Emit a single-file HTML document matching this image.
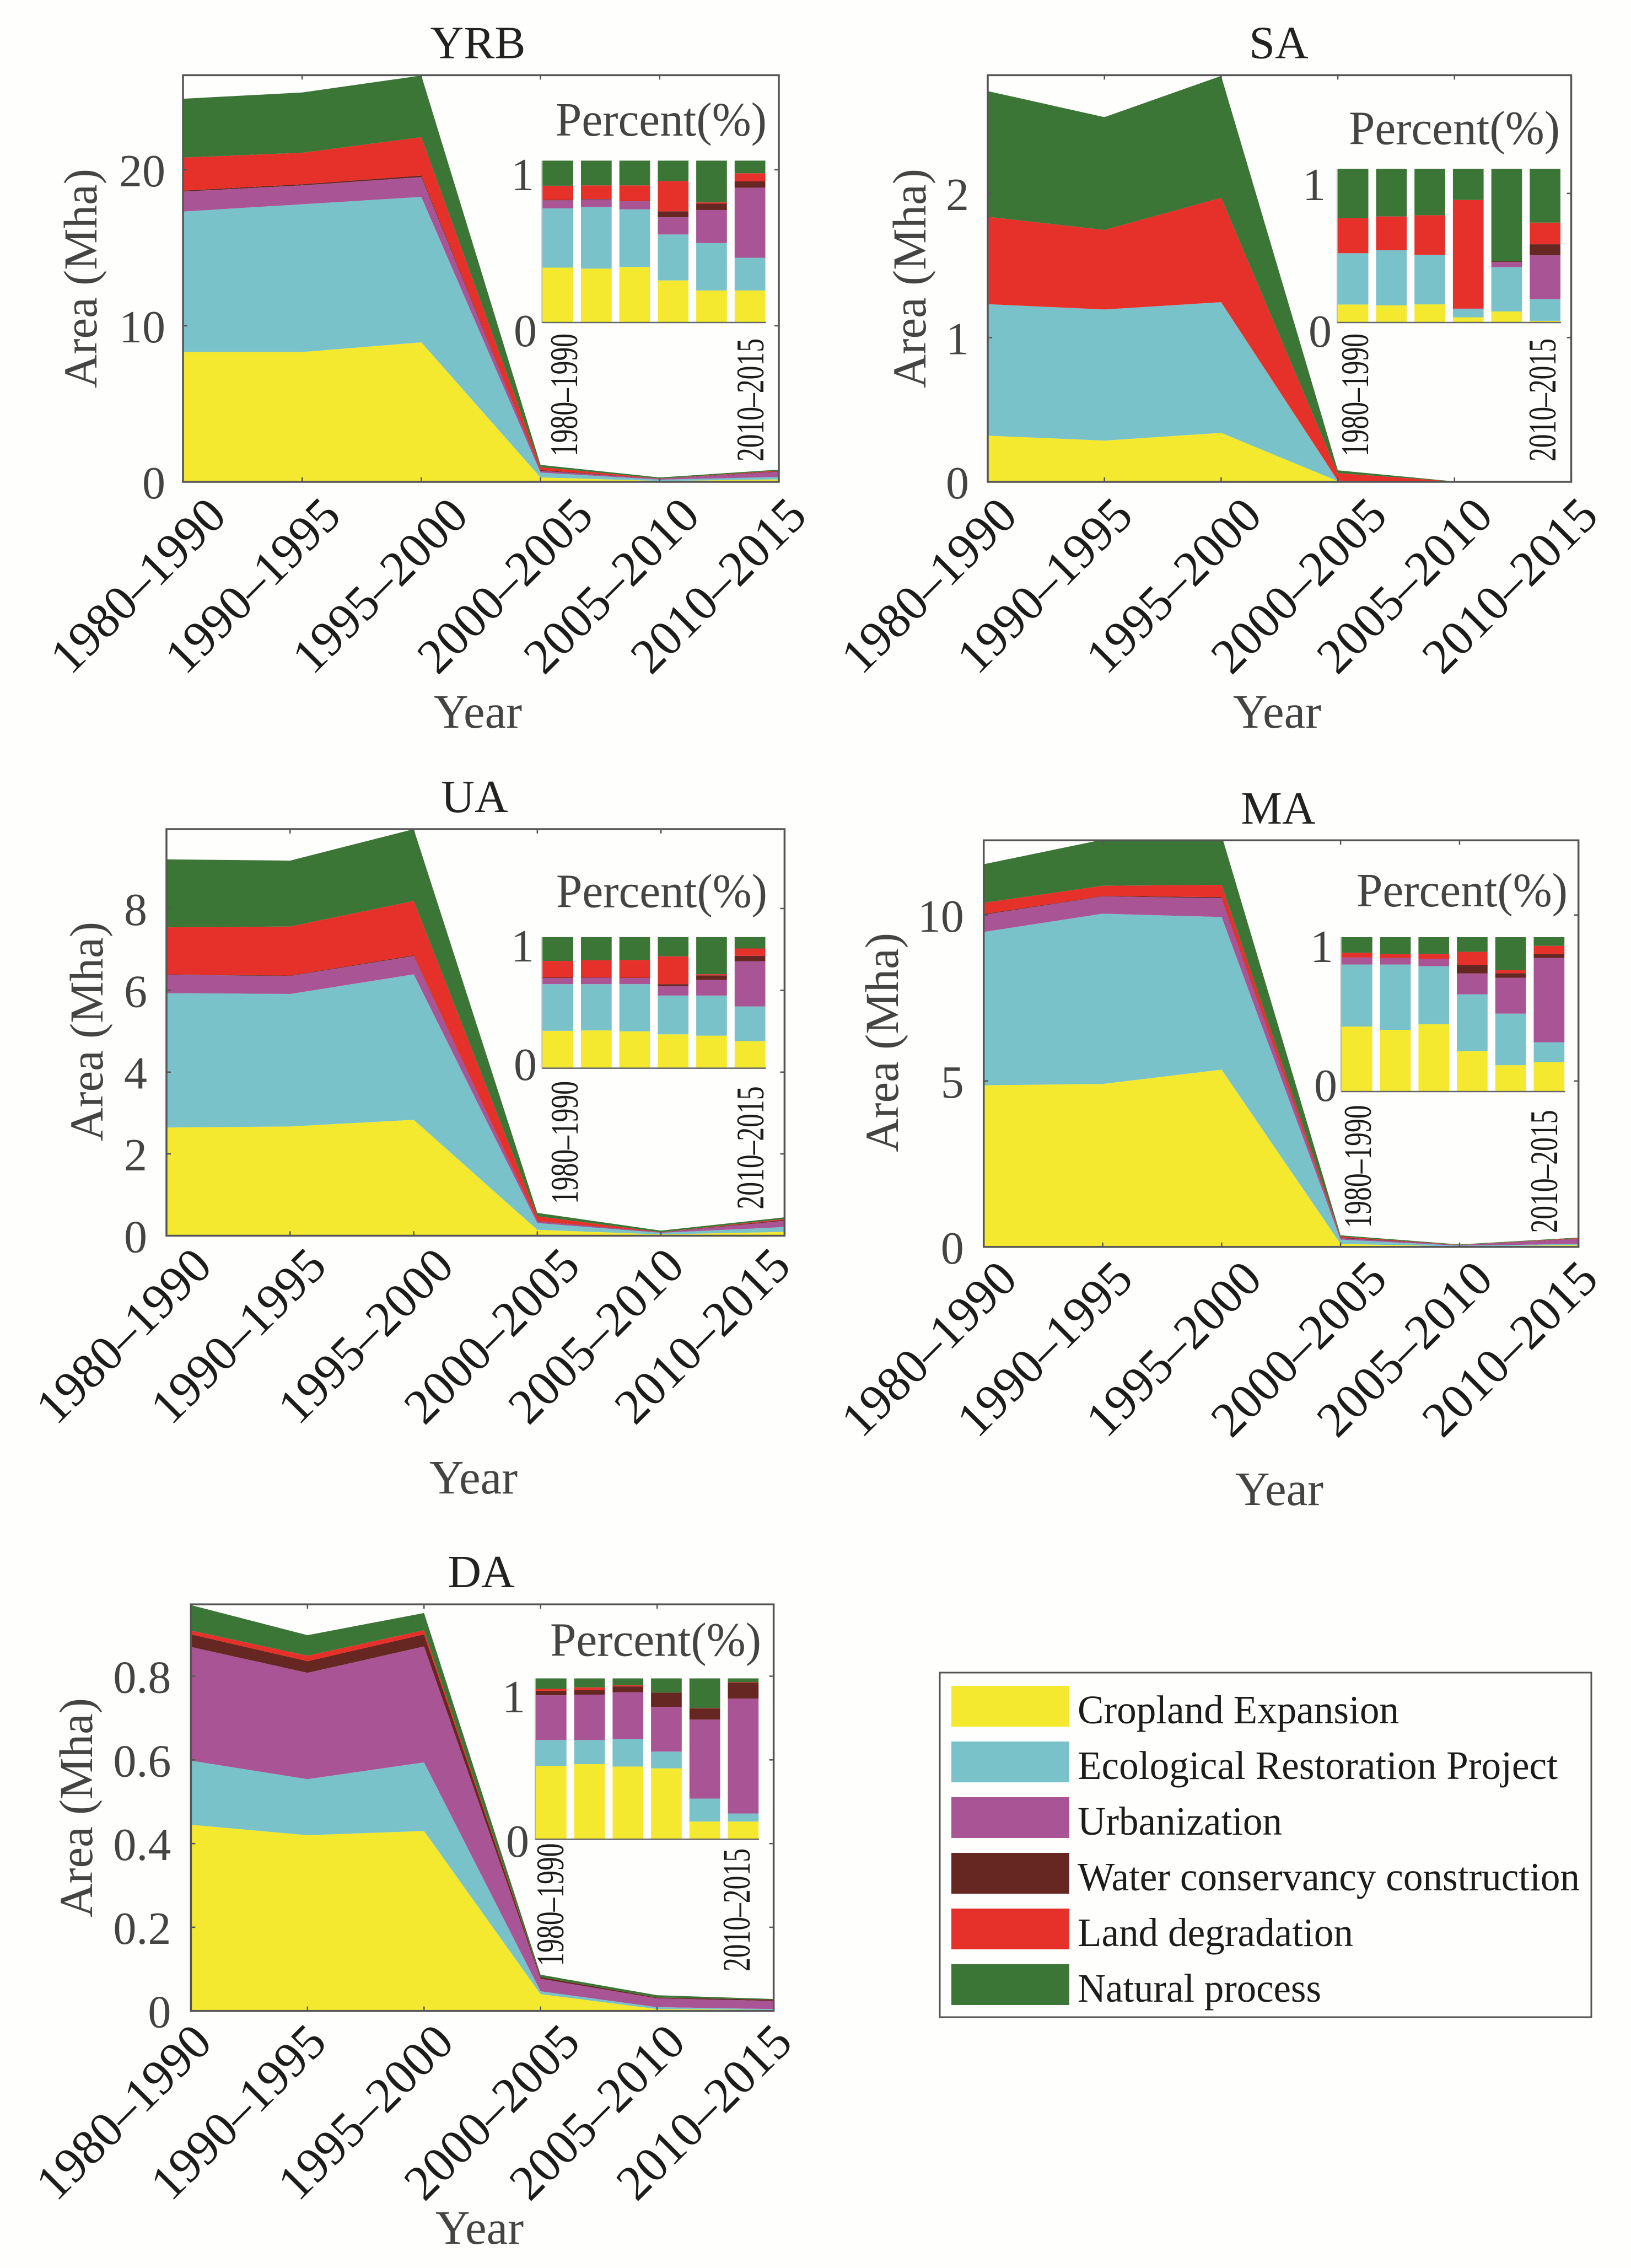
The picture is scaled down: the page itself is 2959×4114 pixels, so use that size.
<!DOCTYPE html>
<html lang="en">
<head>
<meta charset="utf-8">
<title>Area by driver, 1980–2015</title>
<style>
html,body{margin:0;padding:0;background:#fefefd;}
svg{display:block;font-family:"Liberation Serif",serif;}
</style>
</head>
<body>
<svg id="chart" xmlns="http://www.w3.org/2000/svg" width="2959" height="4114" viewBox="0 0 2959 4114">
  <rect x="0" y="0" width="2959" height="4114" fill="#fefefd"/>
  <g id="panels"></g>
  <g>
    <rect x="1705" y="3034" width="1182" height="625" fill="none" stroke="#555" stroke-width="3"/>
    <rect x="1726" y="3058" width="214" height="74" fill="#f4e92f"/>
    <text x="1955" y="3126" font-size="73" fill="#1c1c1c" textLength="583" lengthAdjust="spacingAndGlyphs">Cropland Expansion</text>
    <rect x="1726" y="3159" width="214" height="74" fill="#7ac2c9"/>
    <text x="1955" y="3227" font-size="73" fill="#1c1c1c" textLength="871" lengthAdjust="spacingAndGlyphs">Ecological Restoration Project</text>
    <rect x="1726" y="3260" width="214" height="74" fill="#a85495"/>
    <text x="1955" y="3328" font-size="73" fill="#1c1c1c" textLength="371" lengthAdjust="spacingAndGlyphs">Urbanization</text>
    <rect x="1726" y="3361" width="214" height="74" fill="#662622"/>
    <text x="1955" y="3429" font-size="73" fill="#1c1c1c" textLength="911" lengthAdjust="spacingAndGlyphs">Water conservancy construction</text>
    <rect x="1726" y="3462" width="214" height="74" fill="#e6312b"/>
    <text x="1955" y="3530" font-size="73" fill="#1c1c1c" textLength="500" lengthAdjust="spacingAndGlyphs">Land degradation</text>
    <rect x="1726" y="3563" width="214" height="74" fill="#3b7636"/>
    <text x="1955" y="3631" font-size="73" fill="#1c1c1c" textLength="442" lengthAdjust="spacingAndGlyphs">Natural process</text>
  </g>
</svg>
<script>
// Shared categories
const categories = ['1980–1990','1990–1995','1995–2000','2000–2005','2005–2010','2010–2015'];
const seriesKeys = ['cropland','restoration','urbanization','water','degradation','natural'];

// YRB areas (Mha)
const yrbCropland     = [8.32,8.32,8.94,0.283,0.055,0.154];
const yrbRestoration  = [9.0,9.47,9.32,0.31,0.082,0.158];
const yrbUrbanization = [1.28,1.21,1.27,0.115,0.057,0.338];
const yrbWater        = [0.06,0.07,0.1,0.04,0.011,0.03];
const yrbDegradation  = [2.12,2.02,2.46,0.2,0.002,0.039];
const yrbNatural      = [3.77,3.86,3.95,0.137,0.072,0.061];
// YRB shares
const yrbShareCropland     = [0.339,0.333,0.343,0.26,0.198,0.198];
const yrbShareRestoration  = [0.366,0.38,0.356,0.284,0.293,0.202];
const yrbShareUrbanization = [0.05,0.048,0.05,0.106,0.204,0.433];
const yrbShareWater        = [0.003,0.002,0.002,0.037,0.039,0.039];
const yrbShareDegradation  = [0.087,0.084,0.096,0.187,0.008,0.05];
const yrbShareNatural      = [0.155,0.153,0.153,0.126,0.258,0.078];
const yrbTickLabels = ['0','10','20'];

// SA areas (Mha)
const saCropland     = [0.32,0.286,0.34,0.005,0.0003,0.0001];
const saRestoration  = [0.912,0.909,0.906,0.003,0.0006,0.0003];
const saUrbanization = [0,0,0,0,0.0001,0.0003];
const saWater        = [0,0,0,0,0,0.0001];
const saDegradation  = [0.606,0.552,0.724,0.052,0.0012,0.0002];
const saNatural      = [0.872,0.782,0.845,0.02,0.0005,0.0004];
// SA shares
const saShareCropland     = [0.117,0.112,0.118,0.034,0.072,0.011];
const saShareRestoration  = [0.334,0.358,0.322,0.052,0.288,0.141];
const saShareUrbanization = [0,0,0,0.005,0.034,0.285];
const saShareWater        = [0,0,0,0,0.004,0.072];
const saShareDegradation  = [0.227,0.22,0.258,0.706,0,0.141];
const saShareNatural      = [0.322,0.31,0.302,0.203,0.602,0.35];
const saTickLabels = ['0','1','2'];

// UA areas (Mha)
const uaCropland     = [2.645,2.67,2.835,0.144,0.032,0.093];
const uaRestoration  = [3.285,3.24,3.555,0.165,0.04,0.119];
const uaUrbanization = [0.45,0.44,0.45,0.041,0.0095,0.155];
const uaWater        = [0.01,0.01,0.016,0.008,0.005,0.018];
const uaDegradation  = [1.15,1.2,1.329,0.118,0.001,0.025];
const uaNatural      = [1.66,1.61,1.755,0.082,0.037,0.04];
// UA shares
const uaShareCropland     = [0.285,0.288,0.281,0.258,0.248,0.207];
const uaShareRestoration  = [0.356,0.353,0.36,0.296,0.306,0.264];
const uaShareUrbanization = [0.047,0.049,0.047,0.073,0.119,0.345];
const uaShareWater        = [0.004,0.002,0.002,0.014,0.035,0.041];
const uaShareDegradation  = [0.126,0.131,0.135,0.212,0.009,0.056];
const uaShareNatural      = [0.182,0.177,0.175,0.147,0.283,0.087];
const uaTickLabels = ['0','2','4','6','8'];

// MA areas (Mha)
const maCropland     = [4.87,4.91,5.34,0.092,0.0125,0.053];
const maRestoration  = [4.62,5.13,4.6,0.129,0.0245,0.036];
const maUrbanization = [0.52,0.52,0.57,0.047,0.017,0.153];
const maWater        = [0.02,0.01,0.03,0.02,0.002,0.007];
const maDegradation  = [0.34,0.31,0.37,0.029,0.0014,0.015];
const maNatural      = [1.16,1.39,1.49,0.033,0.0156,0.016];
// MA shares
const maShareCropland     = [0.421,0.4,0.436,0.262,0.171,0.191];
const maShareRestoration  = [0.402,0.423,0.376,0.368,0.334,0.128];
const maShareUrbanization = [0.045,0.042,0.047,0.135,0.232,0.547];
const maShareWater        = [0.001,0.001,0.001,0.056,0.03,0.026];
const maShareDegradation  = [0.03,0.024,0.032,0.084,0.019,0.052];
const maShareNatural      = [0.101,0.11,0.108,0.095,0.214,0.056];
const maTickLabels = ['0','5','10'];

// DA areas (Mha)
const daCropland     = [0.445,0.42,0.43,0.04,0.0045,0.0023];
const daRestoration  = [0.153,0.134,0.164,0.007,0.0045,0.0022];
const daUrbanization = [0.272,0.254,0.277,0.03,0.021,0.0195];
const daWater        = [0.03,0.028,0.029,0.004,0.002,0.003];
const daDegradation  = [0.009,0.013,0.01,0.0001,0.0001,0.0002];
const daNatural      = [0.061,0.049,0.041,0.0055,0.0055,0.0013];
// DA shares
const daShareCropland     = [0.456,0.467,0.452,0.441,0.11,0.11];
const daShareRestoration  = [0.161,0.15,0.171,0.104,0.143,0.05];
const daShareUrbanization = [0.278,0.282,0.291,0.278,0.491,0.715];
const daShareWater        = [0.028,0.03,0.036,0.089,0.07,0.098];
const daShareDegradation  = [0.012,0.015,0.007,0,0.002,0.003];
const daShareNatural      = [0.065,0.056,0.043,0.088,0.184,0.024];
const daTickLabels = ['0','0.2','0.4','0.6','0.8'];

const seriesColors = ['#f4e92f','#7ac2c9','#a85495','#662622','#e6312b','#3b7636'];
const NS = 'http://www.w3.org/2000/svg';

const panels = [
  {key:'yrb',title:'YRB',left:332,right:1413,top:136.4,bottom:874,yMax:26.06,
   area:[yrbCropland,yrbRestoration,yrbUrbanization,yrbWater,yrbDegradation,yrbNatural],
   share:[yrbShareCropland,yrbShareRestoration,yrbShareUrbanization,yrbShareWater,yrbShareDegradation,yrbShareNatural],
   ticks:yrbTickLabels,tickGap:32,
   titlePos:[867,105.6],yearPos:[867,1320],yTitlePos:[175,505],
   catCx:[250,458,689,916,1109,1303],catCy:1062,
   inset:{left:984.3,top:291.4,bottom:585,pctX:1008,pctY:246,oneX:927,oneY:345,zeroX:932,zeroY:628,
          lab1:[1047,716.5],lab2:[1385,725.5]}},
  {key:'sa',title:'SA',left:1792,right:2850.5,top:136.4,bottom:874,yMax:2.82,
   area:[saCropland,saRestoration,saUrbanization,saWater,saDegradation,saNatural],
   share:[saShareCropland,saShareRestoration,saShareUrbanization,saShareWater,saShareDegradation,saShareNatural],
   ticks:saTickLabels,tickGap:34,
   titlePos:[2320,105.6],yearPos:[2317,1320],yTitlePos:[1679,505],
   catCx:[1685,1895,2129,2356,2548,2739],catCy:1062,
   inset:{left:2426.8,top:306.2,bottom:585,pctX:2447,pctY:261.5,oneX:2363,oneY:363,zeroX:2374,zeroY:629,
          lab1:[2482,716.5],lab2:[2822,725.5]}},
  {key:'ua',title:'UA',left:302,right:1423.4,top:1504,bottom:2241.5,yMax:9.94,
   area:[uaCropland,uaRestoration,uaUrbanization,uaWater,uaDegradation,uaNatural],
   share:[uaShareCropland,uaShareRestoration,uaShareUrbanization,uaShareWater,uaShareDegradation,uaShareNatural],
   ticks:uaTickLabels,tickGap:35,
   titlePos:[861,1473],yearPos:[859,2709],yTitlePos:[186,1871],
   catCx:[224,432,663,892,1081,1274],catCy:2423,
   inset:{left:984.3,top:1699.8,bottom:1937.6,pctX:1009,pctY:1645.5,oneX:927,oneY:1744,zeroX:932,zeroY:1959,
          lab1:[1048,2072.5],lab2:[1385,2082]}},
  {key:'ma',title:'MA',left:1784.7,right:2863.7,top:1524.3,bottom:2261.8,yMax:12.25,
   area:[maCropland,maRestoration,maUrbanization,maWater,maDegradation,maNatural],
   share:[maShareCropland,maShareRestoration,maShareUrbanization,maShareWater,maShareDegradation,maShareNatural],
   ticks:maTickLabels,tickGap:36,
   titlePos:[2319,1494],yearPos:[2321,2730],yTitlePos:[1629,1891],
   catCx:[1685,1895,2129,2356,2548,2739],catCy:2446.5,
   inset:{left:2434,top:1700,bottom:1980,pctX:2461,pctY:1644,oneX:2377,oneY:1745,zeroX:2384,zeroY:1997,
          lab1:[2487,2116],lab2:[2825,2125]}},
  {key:'da',title:'DA',left:346.4,right:1403.6,top:2910.2,bottom:3647.7,yMax:0.9717,
   area:[daCropland,daRestoration,daUrbanization,daWater,daDegradation,daNatural],
   share:[daShareCropland,daShareRestoration,daShareUrbanization,daShareWater,daShareDegradation,daShareNatural],
   ticks:daTickLabels,tickGap:36,
   titlePos:[873,2879],yearPos:[870,4070],yTitlePos:[167,3279],
   catCx:[224,432,663,892,1083,1277],catCy:3831,
   inset:{left:972,top:3044.5,bottom:3336.3,pctX:998,pctY:3003.7,oneX:911,oneY:3106,zeroX:918,zeroY:3368,
          lab1:[1022,3455],lab2:[1360,3464.5]}}
];

function make(tag, attrs, parent){
  const el = document.createElementNS(NS, tag);
  for (const k in attrs) el.setAttribute(k, attrs[k]);
  parent.appendChild(el);
  return el;
}

const BAR_STEP = 69.7, BAR_WIDTH = 55.7;
const root = document.getElementById('panels');
const defs = make('defs', {}, root);

panels.forEach(function(p){
  const g = make('g', {}, root);
  
  

  const xScale = function(i){ return p.left + i * (p.right - p.left) / (categories.length - 1); };
  const yScale = function(v){ return p.bottom - v * (p.bottom - p.top) / p.yMax; };

  // clip
  const clip = make('clipPath', {id:'clip-' + p.key}, defs);
  make('rect', {x:p.left, y:p.top, width:p.right - p.left, height:p.bottom - p.top}, clip);

  // stacked areas
  const areas = make('g', {'clip-path':'url(#clip-' + p.key + ')'}, g);
  
  
  const base = categories.map(function(){ return 0; });
  p.area.forEach(function(values, s){
    const lower = base.slice();
    values.forEach(function(v, i){ base[i] += v; });
    const up = base.map(function(v, i){ return xScale(i).toFixed(1) + ',' + yScale(v).toFixed(1); });
    const down = lower.map(function(v, i){ return xScale(i).toFixed(1) + ',' + yScale(v).toFixed(1); }).reverse();
    const poly = make('polygon', {points:up.concat(down).join(' '), fill:seriesColors[s]}, areas);
    
    
  });

  // axes box
  const box = make('rect', {x:p.left, y:p.top, width:p.right - p.left, height:p.bottom - p.top, fill:'none', stroke:'#555', 'stroke-width':3.5}, g);
  
  

  // x ticks and rotated labels
  categories.forEach(function(c, i){
    const x = xScale(i);
    const tb = make('line', {x1:x, x2:x, y1:p.bottom, y2:p.bottom - 8, stroke:'#555', 'stroke-width':2.5}, g);
    
    
    const tt = make('line', {x1:x, x2:x, y1:p.top, y2:p.top + 8, stroke:'#555', 'stroke-width':2.5}, g);
    
    
    const lab = make('text', {transform:'translate(' + p.catCx[i] + ',' + p.catCy + ') rotate(-45)', x:0, y:30, 'text-anchor':'middle', 'font-size':90, fill:'#1c1c1c'}, g);
    
    
    lab.textContent = c;
  });

  // y ticks and labels
  p.ticks.forEach(function(t){
    const y = yScale(parseFloat(t));
    const tl = make('line', {x1:p.left, x2:p.left + 8, y1:y, y2:y, stroke:'#555', 'stroke-width':2.5}, g);
    
    
    const tr = make('line', {x1:p.right, x2:p.right - 8, y1:y, y2:y, stroke:'#555', 'stroke-width':2.5}, g);
    
    
    const lab = make('text', {x:p.left - p.tickGap, y:y + 30, 'text-anchor':'end', 'font-size':84, fill:'#444'}, g);
    
    
    lab.textContent = t;
  });

  // titles
  const title = make('text', {x:p.titlePos[0], y:p.titlePos[1], 'text-anchor':'middle', 'font-size':84, fill:'#222'}, g);
  
  
  title.textContent = p.title;

  const year = make('text', {x:p.yearPos[0], y:p.yearPos[1], 'text-anchor':'middle', 'font-size':87, fill:'#444'}, g);
  
  
  year.textContent = 'Year';

  const yTitle = make('text', {transform:'translate(' + p.yTitlePos[0] + ',' + p.yTitlePos[1] + ') rotate(-90)', x:0, y:0, 'text-anchor':'middle', 'font-size':86, fill:'#444', textLength:398, lengthAdjust:'spacingAndGlyphs'}, g);
  
  
  yTitle.textContent = 'Area (Mha)';

  // inset stacked bars
  const ins = p.inset;
  const inset = make('g', {}, g);
  
  
  const pY = function(v){ return ins.bottom - v * (ins.bottom - ins.top); };
  const pX = function(i){ return ins.left + i * BAR_STEP; };
  const stack = categories.map(function(){ return 0; });
  p.share.forEach(function(values, s){
    values.forEach(function(v, i){
      if (v <= 0) return;
      const y0 = stack[i];
      stack[i] += v;
      const bar = make('rect', {x:pX(i), y:pY(Math.min(stack[i], 1)), width:BAR_WIDTH, height:Math.max(pY(y0) - pY(Math.min(stack[i], 1)), 0), fill:seriesColors[s]}, inset);
      
      
    });
  });
  const insAxis = make('line', {x1:ins.left - 1, x2:pX(5) + BAR_WIDTH + 1, y1:ins.bottom, y2:ins.bottom, stroke:'#666', 'stroke-width':2.5}, inset);
  
  
  const insLeft = make('line', {x1:ins.left - 1, x2:ins.left - 1, y1:ins.top, y2:ins.bottom, stroke:'#999', 'stroke-width':1.5}, inset);
  
  

  const pct = make('text', {x:ins.pctX, y:ins.pctY, 'font-size':87, fill:'#444', textLength:383, lengthAdjust:'spacingAndGlyphs'}, inset);
  
  
  pct.textContent = 'Percent(%)';

  const one = make('text', {x:ins.oneX, y:ins.oneY, 'font-size':84, fill:'#444'}, inset);
  
  
  one.textContent = '1';
  const zero = make('text', {x:ins.zeroX, y:ins.zeroY, 'font-size':84, fill:'#444'}, inset);
  
  
  zero.textContent = '0';

  const first = make('text', {transform:'translate(' + ins.lab1[0] + ',' + ins.lab1[1] + ') rotate(-90)', x:0, y:0, 'text-anchor':'middle', 'font-size':71, fill:'#1c1c1c', textLength:223, lengthAdjust:'spacingAndGlyphs'}, inset);
  
  
  first.textContent = categories[0];
  const last = make('text', {transform:'translate(' + ins.lab2[0] + ',' + ins.lab2[1] + ') rotate(-90)', x:0, y:0, 'text-anchor':'middle', 'font-size':71, fill:'#1c1c1c', textLength:223, lengthAdjust:'spacingAndGlyphs'}, inset);
  
  
  last.textContent = categories[5];
});
</script>
</body>
</html>
